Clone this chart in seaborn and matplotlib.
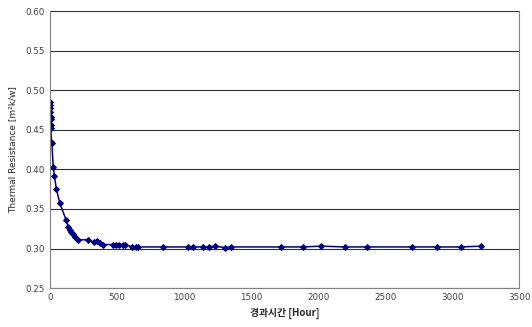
import matplotlib

matplotlib.use("Agg")
import matplotlib.pyplot as plt
import pandas
import seaborn as sns
from matplotlib.ticker import FormatStrFormatter, MultipleLocator
from pandas import DataFrame

# Elapsed time [hour] and measured thermal resistance [m2k/w]
hours: list[float] = [
    0, 1, 2, 3, 4, 6, 5, 7, 10, 14, 24, 32, 48, 72, 120, 136, 146, 158,
    172, 190, 208, 286, 328, 352, 376, 394, 470, 492, 512, 542, 562, 612,
    640, 656, 845, 1028, 1067, 1139, 1183, 1233, 1307, 1351, 1721, 1886,
    2024, 2197, 2364, 2697, 2885, 3065, 3218,
]
resistance: list[float] = [
    0.485, 0.481, 0.477, 0.473, 0.466, 0.464, 0.456, 0.452, 0.434, 0.433,
    0.403, 0.392, 0.375, 0.358, 0.336, 0.327, 0.324, 0.321, 0.318, 0.315,
    0.311, 0.311, 0.308, 0.309, 0.307, 0.305, 0.305, 0.305, 0.304, 0.304,
    0.305, 0.302, 0.302, 0.302, 0.302, 0.302, 0.302, 0.302, 0.302, 0.303,
    0.301, 0.302, 0.302, 0.302, 0.303, 0.302, 0.302, 0.302, 0.302, 0.302,
    0.303,
]

x_ticks: list[int] = [0, 500, 1000, 1500, 2000, 2500, 3000, 3500]


def plot(df: DataFrame) -> None:
    sns.set_style("white")
    plt.rcParams["font.family"] = ["DejaVu Sans", "Noto Sans CJK KR"]

    fig = plt.figure(figsize=(5.32, 3.27), dpi=100)
    ax = fig.add_axes([0.094, 0.119, 0.882, 0.847])

    sns.lineplot(
        data=df,
        x="hour",
        y="value",
        estimator=None,
        sort=False,
        color="#000080",
        marker="D",
        markersize=3,
        markeredgecolor="#000080",
        linewidth=1.1,
        ax=ax,
    )

    ax.set_xlim(0, 3500)
    ax.set_ylim(0.25, 0.60)
    ax.set_xticks(x_ticks)
    ax.yaxis.set_major_locator(MultipleLocator(0.05))
    ax.yaxis.set_major_formatter(FormatStrFormatter("%.2f"))
    ax.grid(axis="y", color="#303030", linewidth=0.8)
    ax.set_axisbelow(True)

    for side in ["left", "bottom", "right", "top"]:
        ax.spines[side].set_color("#808080")
        ax.spines[side].set_linewidth(0.8)
    ax.spines["top"].set_visible(False)

    ax.tick_params(axis="both", labelsize=6.3, labelcolor="#404040", length=3,
                   color="#808080", direction="in")
    ax.tick_params(axis="y", length=0)

    ax.set_xlabel("경과시간 [Hour]", fontsize=7, fontweight="bold",
                  family=["Noto Sans CJK KR", "DejaVu Sans"], labelpad=4)
    ax.set_ylabel("Thermal Resistance [m²k/w]", fontsize=6.5, labelpad=6)

    fig.savefig("out.png", dpi=100, facecolor="white")
    plt.close(fig)


def main() -> None:
    df: DataFrame = pandas.DataFrame({"hour": hours, "value": resistance})
    plot(df=df)


if __name__ == "__main__":
    main()
